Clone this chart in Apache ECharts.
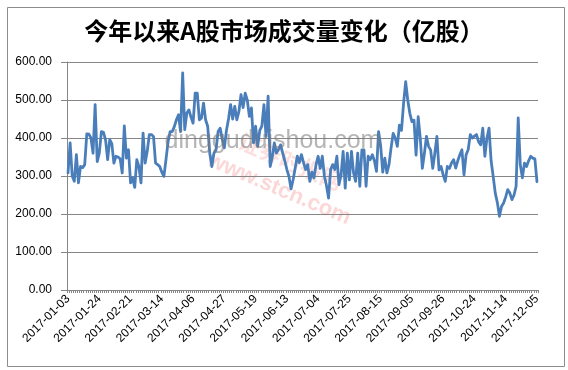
<!DOCTYPE html>
<html>
<head>
<meta charset="utf-8">
<script src="https://cdn.jsdelivr.net/npm/echarts@6/dist/echarts.min.js"></script>
<style>
html,body{margin:0;padding:0;background:#fff;}
#c{width:568px;height:370px;}
</style>
</head>
<body>
<div id="c"></div>
<script>
// ---- DATA ----
const titleText = '今年以来A股市场成交量变化（亿股）';
const firstDay = '2017-01-03';
const lastDay = '2017-12-05';
// SSE/SZSE closed days on weekdays in 2017 (trading calendar)
const holidays = ['2017-01-02','2017-01-27','2017-01-30','2017-01-31','2017-02-01','2017-02-02',
  '2017-04-03','2017-04-04','2017-05-01','2017-05-29','2017-05-30',
  '2017-10-02','2017-10-03','2017-10-04','2017-10-05','2017-10-06'];
const yTicks = [0, 100, 200, 300, 400, 500, 600];

// daily volume (亿股)
const volQ1 = [308,387,300,286,356,282,325,322,330,411, 410,400,360,488,338,360,417,415,395,343,
  396,385,334,352,350,345,308,432,347,369, 282,295,270,343,325,282,413,334,365,409,
  409,404,334,330,325,310,299,343,390,417, 417,430,448,461,417,571,422,466,474];
const volQ2 = [455,439,518,518,448,452,492,448,431,360, 325,360,369,417,426,396,374,420,450,488,
  450,483,448,470,514,480,518,500,457,479, 387,431,378,420,431,488,404,510,325,350,
  387,360,370,382,360,340,317,299,266,290, 321,352,335,356,335,317,330,286,310,295];
const volQ3 = [330,352,320,352,300,275,242,317,330,317, 352,277,303,365,268,360,290,365,308,286,
  360,273,369,369,273,352,343,356,340,312, 417,380,310,347,308,330,374,412,400,378,
  434,420,491,548,500,465,443,447,355,456, 400,320,360,404,378,368,320,360,404,316,
  325,303,286,325,320];
const volQ4 = [334,343,321,340,356,369,303,356,369,409, 400,405,409,390,382,426,352,400,426,340,
  299,255,230,194,220,229,245,264,255,238, 250,273,453,330,295,334,325,340,352,347,
  345,285];

// ---- build categories from the trading calendar ----
function tradingDays(a, b, off) {
  const out = [];
  const d = new Date(a + 'T00:00:00Z');
  const end = new Date(b + 'T00:00:00Z');
  while (d <= end) {
    const wd = d.getUTCDay();
    const s = d.toISOString().slice(0, 10);
    if (wd !== 0 && wd !== 6 && off.indexOf(s) < 0) out.push(s);
    d.setUTCDate(d.getUTCDate() + 1);
  }
  return out;
}
const dates = tradingDays(firstDay, lastDay, holidays);
const volume = volQ1.concat(volQ2, volQ3, volQ4);

const chart = echarts.init(document.getElementById('c'), null, {renderer: 'canvas'});
const axisGray = '#868686';
chart.setOption({
  animation: false,
  backgroundColor: '#ffffff',
  title: {
    text: titleText,
    left: 'center',
    top: 14,
    textStyle: {fontFamily: 'Noto Sans CJK SC', fontSize: 24, fontWeight: 'bold', color: '#000'}
  },
  grid: {left: 67, right: 30, top: 62, bottom: 80, containLabel: false},
  xAxis: {
    type: 'category',
    data: dates,
    boundaryGap: true,
    axisLine: {lineStyle: {color: axisGray, width: 1}},
    axisTick: {show: true, interval: 0, length: 3, lineStyle: {color: axisGray}},
    axisLabel: {interval: 14, rotate: 45, margin: 7, fontSize: 12, color: '#000', fontFamily: 'Liberation Sans'},
    splitLine: {show: false}
  },
  yAxis: {
    type: 'value',
    min: yTicks[0],
    max: yTicks[yTicks.length - 1],
    interval: 100,
    axisLine: {show: true, lineStyle: {color: axisGray, width: 1}},
    axisTick: {show: true, length: 6, lineStyle: {color: axisGray}},
    axisLabel: {fontSize: 12, color: '#000', margin: 15, fontFamily: 'Liberation Sans',
      formatter: v => v.toFixed(2)},
    splitLine: {show: true, lineStyle: {color: axisGray, width: 1}}
  },
  series: [{
    type: 'line',
    data: volume,
    showSymbol: false,
    symbol: 'none',
    smooth: false,
    z: 3,
    lineStyle: {color: '#4a7ebb', width: 2.8, join: 'round', cap: 'round'}
  }],
  graphic: [
    {type: 'rect', left: 5, top: 5, z: 0, silent: true,
      shape: {x: 0, y: 0, width: 557, height: 359},
      style: {fill: 'none', stroke: '#8c8c8c', lineWidth: 1}},
    {type: 'group', x: 283, y: 180, rotation: -0.40, z: 1, silent: true,
      children: [
        {type: 'text', x: 0, y: -20, style: {text: '证券时报网', fill: 'rgba(240,110,110,0.22)', font: 'bold 22px "Noto Sans CJK SC"', textAlign: 'center', textVerticalAlign: 'middle'}},
        {type: 'text', x: 0, y: 10, style: {text: 'www.stcn.com', fill: 'rgba(240,110,110,0.28)', font: 'bold 22px "Liberation Sans"', textAlign: 'center', textVerticalAlign: 'middle'}}
      ]},
    {type: 'text', x: 273, y: 141, z: 100, silent: true,
      style: {text: 'dingguduishou.com', fill: 'rgba(120,120,120,0.55)', font: '25px "Liberation Sans"', textAlign: 'center', textVerticalAlign: 'middle'}}
  ]
});
</script>
</body>
</html>
